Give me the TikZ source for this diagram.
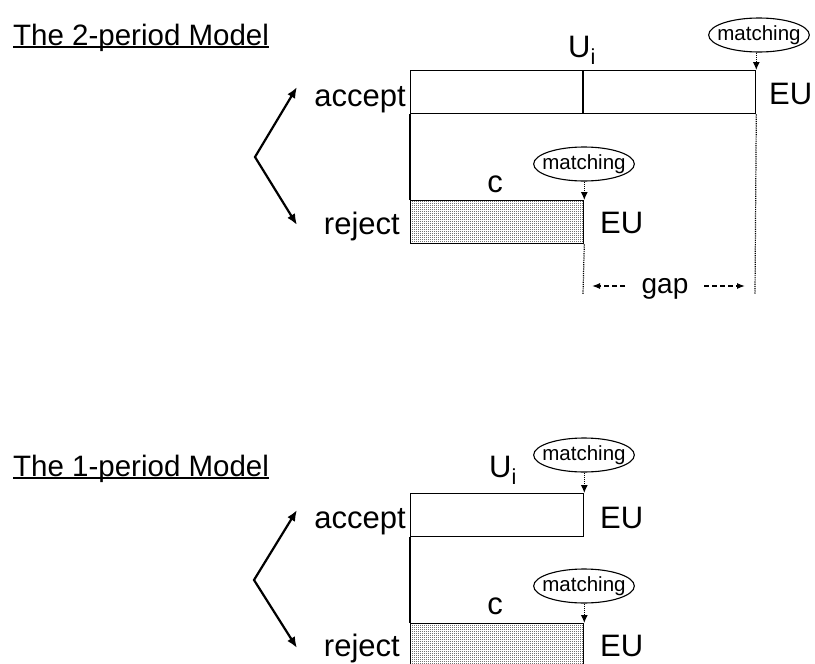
\documentclass[tikz,border=0pt]{standalone}
\usepackage{fontspec}
\setmainfont{Liberation Sans}
\usetikzlibrary{shapes.geometric,arrows.meta,patterns}
\pgfdeclarepatternformonly{stipple}{\pgfqpoint{0pt}{0pt}}{\pgfqpoint{1pt}{1pt}}{\pgfqpoint{2pt}{2pt}}{%
  \pgfpathrectangle{\pgfqpoint{0pt}{0pt}}{\pgfqpoint{1pt}{1pt}}\pgfusepath{fill}}
\begin{document}
\begin{tikzpicture}[x=1pt,y=-1pt,
  box/.style={draw, line width=1.3pt, inner sep=0pt, anchor=north west, minimum height=43pt},
  rejbox/.style={box, pattern=stipple, pattern color=black!55},
  lbl/.style={inner sep=0pt, font=\fontsize{31}{33}\selectfont},
  ttl/.style={inner sep=0pt, anchor=base west, font=\fontsize{29.5}{31}\selectfont},
  ell/.style={draw, ellipse, line width=1.1pt, inner xsep=-6pt, inner ysep=0pt,
              minimum width=95pt, minimum height=34pt, font=\fontsize{20.5}{21}\selectfont},
  marr/.style={densely dotted, line width=1.1pt, -{Latex[length=8pt,width=7pt]}},
  branch/.style={line width=2.2pt, {Latex[length=11pt,width=9pt]}-{Latex[length=11pt,width=9pt]}},
  vdot/.style={densely dotted, line width=1.2pt},
  gaparr/.style={line width=1.3pt, dash pattern=on 5pt off 3pt, -{Latex[length=8pt,width=6pt]}},
  link/.style={line width=1.3pt}
]
\useasboundingbox (0,0) rectangle (815,664);

% ---------------- 2-period model ----------------
\node[ttl] (t1) at (13,45) {The 2-period Model};
\draw[line width=1.1pt] ([yshift=-2pt]t1.base west) -- ([yshift=-2pt]t1.base east);

\node[box, minimum width=345pt] (acc1) at (410,70) {};
\coordinate (d1t) at (583,70);
\coordinate (d1b) at (583,113);
\draw[link] (d1t) -- (d1b);
\node[rejbox, minimum width=173pt] (rej1) at (410,200) {};
\draw[link] (acc1.south west) -- (rej1.north west);

\node[lbl, anchor=base east] (acct1) at (406,106) {accept};
\node[lbl, anchor=base east] (rejt1) at (400,234) {reject};
\node[lbl, anchor=base west] (eu1) at (769,104) {EU};
\node[lbl, anchor=base west] (eu2) at (600,233) {EU};
\node[lbl, anchor=base] (c1) at (495,192) {c};
\node[lbl, anchor=base west] (u1) at (568,57) {U\textsubscript{i}};

\node[ell] (m1) at (759,35) {matching};
\node[ell] (m2) at (584,164) {matching};
\draw[marr] (m1.south -| acc1.north east) -- (acc1.north east);
\draw[marr] (m2.south -| rej1.north east) -- (rej1.north east);

\coordinate (v1) at (255,157);
\coordinate (ta1) at (297,87);
\coordinate (tr1) at (297,225);
\draw[branch] (ta1) -- (v1) -- (tr1);

\coordinate (g1r) at (755,294);
\coordinate (g1l) at (583,294);
\draw[vdot] (acc1.south east) -- (g1r);
\draw[vdot] (rej1.south east) -- (g1l);
\node[lbl, anchor=base, font=\fontsize{28}{30}\selectfont] (gap) at (665,293) {gap};
\coordinate (gla) at (625,286);
\coordinate (glb) at (592,286);
\coordinate (gra) at (704,286);
\coordinate (grb) at (745,286);
\draw[gaparr] (gla) -- (glb);
\draw[gaparr] (gra) -- (grb);

% ---------------- 1-period model ----------------
\node[ttl] (t2) at (13,476) {The 1-period Model};
\draw[line width=1.1pt] ([yshift=-2pt]t2.base west) -- ([yshift=-2pt]t2.base east);

\node[box, minimum width=173pt] (acc2) at (410,493) {};
\node[rejbox, minimum width=173pt] (rej2) at (410,623) {};
\draw[link] (acc2.south west) -- (rej2.north west);

\node[lbl, anchor=base east] (acct2) at (406,528) {accept};
\node[lbl, anchor=base east] (rejt2) at (400,656) {reject};
\node[lbl, anchor=base west] (eu3) at (600,528) {EU};
\node[lbl, anchor=base west] (eu4) at (600,656) {EU};
\node[lbl, anchor=base] (c2) at (495,614) {c};
\node[lbl, anchor=base west] (u2) at (489,477) {U\textsubscript{i}};

\node[ell] (m3) at (584,455) {matching};
\node[ell] (m4) at (584,586) {matching};
\draw[marr] (m3.south -| acc2.north east) -- (acc2.north east);
\draw[marr] (m4.south -| rej2.north east) -- (rej2.north east);

\coordinate (v2) at (254,580);
\coordinate (ta2) at (297,510);
\coordinate (tr2) at (297,648);
\draw[branch] (ta2) -- (v2) -- (tr2);
\end{tikzpicture}
\end{document}
